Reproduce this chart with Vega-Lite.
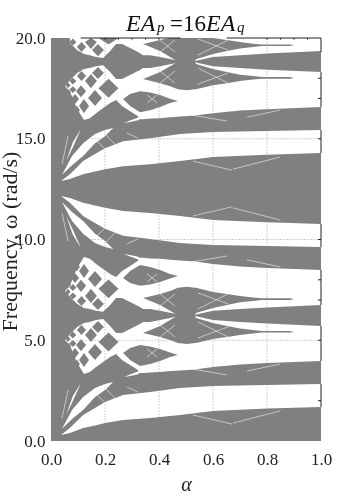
{"$schema":"https://vega.github.io/schema/vega-lite/v6.json","autosize":{"type":"none"},"padding":{"left":51,"top":38,"right":39,"bottom":56},"width":270,"height":403,"background":"white","config":{"view":{"stroke":null}},
"datasets":{
"bg":[{"g":"bg","a":0,"lo":0,"hi":20},{"g":"bg","a":1,"lo":0,"hi":20}],
"white":[
{"g":"A1","a":0.037,"lo":0.3,"hi":0.3},{"g":"A1","a":0.07,"lo":0.4,"hi":0.64},{"g":"A1","a":0.119,"lo":0.64,"hi":1.29},{"g":"A1","a":0.163,"lo":0.77,"hi":1.64},{"g":"A1","a":0.2,"lo":0.89,"hi":1.93},{"g":"A1","a":0.267,"lo":1.04,"hi":2.28},{"g":"A1","a":0.367,"lo":1.14,"hi":2.43},{"g":"A1","a":0.478,"lo":1.29,"hi":2.63},{"g":"A1","a":0.6,"lo":1.49,"hi":2.73},{"g":"A1","a":0.8,"lo":1.61,"hi":2.78},{"g":"A1","a":1,"lo":1.69,"hi":2.83},
{"g":"A2","a":0.037,"lo":12.16,"hi":12.16},{"g":"A2","a":0.07,"lo":12.06,"hi":11.82},{"g":"A2","a":0.119,"lo":11.82,"hi":11.17},{"g":"A2","a":0.163,"lo":11.69,"hi":10.82},{"g":"A2","a":0.2,"lo":11.57,"hi":10.53},{"g":"A2","a":0.267,"lo":11.42,"hi":10.18},{"g":"A2","a":0.367,"lo":11.32,"hi":10.03},{"g":"A2","a":0.478,"lo":11.17,"hi":9.83},{"g":"A2","a":0.6,"lo":10.97,"hi":9.73},{"g":"A2","a":0.8,"lo":10.85,"hi":9.68},{"g":"A2","a":1,"lo":10.77,"hi":9.63},
{"g":"A3","a":0.037,"lo":12.9,"hi":12.9},{"g":"A3","a":0.07,"lo":13.0,"hi":13.24},{"g":"A3","a":0.119,"lo":13.24,"hi":13.89},{"g":"A3","a":0.163,"lo":13.37,"hi":14.24},{"g":"A3","a":0.2,"lo":13.49,"hi":14.53},{"g":"A3","a":0.267,"lo":13.64,"hi":14.88},{"g":"A3","a":0.367,"lo":13.74,"hi":15.03},{"g":"A3","a":0.478,"lo":13.89,"hi":15.23},{"g":"A3","a":0.6,"lo":14.09,"hi":15.33},{"g":"A3","a":0.8,"lo":14.21,"hi":15.38},{"g":"A3","a":1,"lo":14.29,"hi":15.43},
{"g":"B1","a":0.041,"lo":0.61,"hi":0.61},{"g":"B1","a":0.078,"lo":1.09,"hi":1.54},{"g":"B1","a":0.119,"lo":1.54,"hi":2.18},{"g":"B1","a":0.163,"lo":2.18,"hi":2.63},{"g":"B1","a":0.2,"lo":2.53,"hi":2.83},{"g":"B1","a":0.23,"lo":2.93,"hi":2.93},
{"g":"B2","a":0.041,"lo":11.85,"hi":11.85},{"g":"B2","a":0.078,"lo":11.37,"hi":10.92},{"g":"B2","a":0.119,"lo":10.92,"hi":10.28},{"g":"B2","a":0.163,"lo":10.28,"hi":9.83},{"g":"B2","a":0.2,"lo":9.93,"hi":9.63},{"g":"B2","a":0.23,"lo":9.53,"hi":9.53},
{"g":"B3","a":0.041,"lo":13.21,"hi":13.21},{"g":"B3","a":0.078,"lo":13.69,"hi":14.14},{"g":"B3","a":0.119,"lo":14.14,"hi":14.78},{"g":"B3","a":0.163,"lo":14.78,"hi":15.23},{"g":"B3","a":0.2,"lo":15.13,"hi":15.43},{"g":"B3","a":0.23,"lo":15.53,"hi":15.53},
{"g":"C1","a":0.056,"lo":1.29,"hi":1.29},{"g":"C1","a":0.081,"lo":1.98,"hi":2.23},{"g":"C1","a":0.111,"lo":2.88,"hi":2.88},
{"g":"C2","a":0.056,"lo":11.17,"hi":11.17},{"g":"C2","a":0.081,"lo":10.48,"hi":10.23},{"g":"C2","a":0.111,"lo":9.58,"hi":9.58},
{"g":"C3","a":0.056,"lo":13.89,"hi":13.89},{"g":"C3","a":0.081,"lo":14.58,"hi":14.83},{"g":"C3","a":0.111,"lo":15.48,"hi":15.48},
{"g":"M1","a":0.052,"lo":5.01,"hi":5.01},{"g":"M1","a":0.07,"lo":4.75,"hi":5.3},{"g":"M1","a":0.096,"lo":3.9,"hi":5.65},{"g":"M1","a":0.122,"lo":3.33,"hi":5.86},{"g":"M1","a":0.144,"lo":3.42,"hi":5.91},{"g":"M1","a":0.167,"lo":3.67,"hi":6.0},{"g":"M1","a":0.193,"lo":3.92,"hi":6.05},{"g":"M1","a":0.219,"lo":4.17,"hi":5.71},{"g":"M1","a":0.241,"lo":4.32,"hi":5.36},{"g":"M1","a":0.263,"lo":4.02,"hi":5.36},{"g":"M1","a":0.293,"lo":3.77,"hi":5.56},{"g":"M1","a":0.322,"lo":3.52,"hi":5.76},{"g":"M1","a":0.326,"lo":3.37,"hi":5.78},{"g":"M1","a":0.341,"lo":3.37,"hi":5.91},{"g":"M1","a":0.367,"lo":3.4,"hi":5.91},{"g":"M1","a":0.404,"lo":3.42,"hi":6.0},{"g":"M1","a":0.441,"lo":3.47,"hi":6.1},{"g":"M1","a":0.478,"lo":3.5,"hi":6.2},{"g":"M1","a":0.533,"lo":3.55,"hi":6.2},{"g":"M1","a":0.6,"lo":3.67,"hi":6.0},{"g":"M1","a":0.7,"lo":3.8,"hi":5.91},{"g":"M1","a":0.8,"lo":3.87,"hi":5.83},{"g":"M1","a":1,"lo":3.97,"hi":5.71},
{"g":"M2","a":0.052,"lo":7.45,"hi":7.45},{"g":"M2","a":0.07,"lo":7.71,"hi":7.16},{"g":"M2","a":0.096,"lo":8.56,"hi":6.81},{"g":"M2","a":0.122,"lo":9.13,"hi":6.6},{"g":"M2","a":0.144,"lo":9.04,"hi":6.55},{"g":"M2","a":0.167,"lo":8.79,"hi":6.46},{"g":"M2","a":0.193,"lo":8.54,"hi":6.41},{"g":"M2","a":0.219,"lo":8.29,"hi":6.75},{"g":"M2","a":0.241,"lo":8.14,"hi":7.1},{"g":"M2","a":0.263,"lo":8.44,"hi":7.1},{"g":"M2","a":0.293,"lo":8.69,"hi":6.9},{"g":"M2","a":0.322,"lo":8.94,"hi":6.7},{"g":"M2","a":0.326,"lo":9.09,"hi":6.68},{"g":"M2","a":0.341,"lo":9.09,"hi":6.55},{"g":"M2","a":0.367,"lo":9.06,"hi":6.55},{"g":"M2","a":0.404,"lo":9.04,"hi":6.46},{"g":"M2","a":0.441,"lo":8.99,"hi":6.36},{"g":"M2","a":0.478,"lo":8.96,"hi":6.26},{"g":"M2","a":0.533,"lo":8.91,"hi":6.26},{"g":"M2","a":0.6,"lo":8.79,"hi":6.46},{"g":"M2","a":0.7,"lo":8.66,"hi":6.55},{"g":"M2","a":0.8,"lo":8.59,"hi":6.63},{"g":"M2","a":1,"lo":8.49,"hi":6.75},
{"g":"M3","a":0.052,"lo":17.61,"hi":17.61},{"g":"M3","a":0.07,"lo":17.35,"hi":17.9},{"g":"M3","a":0.096,"lo":16.5,"hi":18.25},{"g":"M3","a":0.122,"lo":15.93,"hi":18.46},{"g":"M3","a":0.144,"lo":16.02,"hi":18.51},{"g":"M3","a":0.167,"lo":16.27,"hi":18.6},{"g":"M3","a":0.193,"lo":16.52,"hi":18.65},{"g":"M3","a":0.219,"lo":16.77,"hi":18.31},{"g":"M3","a":0.241,"lo":16.92,"hi":17.96},{"g":"M3","a":0.263,"lo":16.62,"hi":17.96},{"g":"M3","a":0.293,"lo":16.37,"hi":18.16},{"g":"M3","a":0.322,"lo":16.12,"hi":18.36},{"g":"M3","a":0.326,"lo":15.97,"hi":18.38},{"g":"M3","a":0.341,"lo":15.97,"hi":18.51},{"g":"M3","a":0.367,"lo":16.0,"hi":18.51},{"g":"M3","a":0.404,"lo":16.02,"hi":18.6},{"g":"M3","a":0.441,"lo":16.07,"hi":18.7},{"g":"M3","a":0.478,"lo":16.1,"hi":18.8},{"g":"M3","a":0.533,"lo":16.15,"hi":18.8},{"g":"M3","a":0.6,"lo":16.27,"hi":18.6},{"g":"M3","a":0.7,"lo":16.4,"hi":18.51},{"g":"M3","a":0.8,"lo":16.47,"hi":18.43},{"g":"M3","a":1,"lo":16.57,"hi":18.31},
{"g":"M4","a":0.07,"lo":20,"hi":19.76},{"g":"M4","a":0.096,"lo":20,"hi":19.41},{"g":"M4","a":0.122,"lo":20,"hi":19.2},{"g":"M4","a":0.144,"lo":20,"hi":19.15},{"g":"M4","a":0.167,"lo":20,"hi":19.06},{"g":"M4","a":0.193,"lo":20,"hi":19.01},{"g":"M4","a":0.219,"lo":20,"hi":19.35},{"g":"M4","a":0.241,"lo":20,"hi":19.7},{"g":"M4","a":0.263,"lo":20,"hi":19.7},{"g":"M4","a":0.293,"lo":20,"hi":19.5},{"g":"M4","a":0.322,"lo":20,"hi":19.3},{"g":"M4","a":0.326,"lo":20,"hi":19.28},{"g":"M4","a":0.341,"lo":20,"hi":19.15},{"g":"M4","a":0.367,"lo":20,"hi":19.15},{"g":"M4","a":0.404,"lo":20,"hi":19.06},{"g":"M4","a":0.441,"lo":20,"hi":18.96},{"g":"M4","a":0.478,"lo":20,"hi":18.86},{"g":"M4","a":0.533,"lo":20,"hi":18.86},{"g":"M4","a":0.6,"lo":20,"hi":19.06},{"g":"M4","a":0.7,"lo":20,"hi":19.15},{"g":"M4","a":0.8,"lo":20,"hi":19.23},{"g":"M4","a":1,"lo":20,"hi":19.35},
{"g":"E1","a":0.27,"lo":3.18,"hi":3.18},{"g":"E1","a":0.293,"lo":3.23,"hi":3.3},{"g":"E1","a":0.326,"lo":3.33,"hi":3.47},
{"g":"E2","a":0.27,"lo":9.28,"hi":9.28},{"g":"E2","a":0.293,"lo":9.23,"hi":9.16},{"g":"E2","a":0.326,"lo":9.13,"hi":8.99},
{"g":"E3","a":0.27,"lo":15.78,"hi":15.78},{"g":"E3","a":0.293,"lo":15.83,"hi":15.9},{"g":"E3","a":0.326,"lo":15.93,"hi":16.07}
],
"gray":[
{"g":"I1","a":0.267,"lo":4.37,"hi":4.37},{"g":"I1","a":0.293,"lo":4.02,"hi":4.62},{"g":"I1","a":0.33,"lo":3.72,"hi":4.76},{"g":"I1","a":0.367,"lo":3.82,"hi":4.69},{"g":"I1","a":0.404,"lo":3.97,"hi":4.57},{"g":"I1","a":0.441,"lo":4.17,"hi":4.39},{"g":"I1","a":0.47,"lo":4.27,"hi":4.27},
{"g":"I2","a":0.267,"lo":8.09,"hi":8.09},{"g":"I2","a":0.293,"lo":8.44,"hi":7.84},{"g":"I2","a":0.33,"lo":8.74,"hi":7.7},{"g":"I2","a":0.367,"lo":8.64,"hi":7.77},{"g":"I2","a":0.404,"lo":8.49,"hi":7.89},{"g":"I2","a":0.441,"lo":8.29,"hi":8.07},{"g":"I2","a":0.47,"lo":8.19,"hi":8.19},
{"g":"I3","a":0.267,"lo":16.97,"hi":16.97},{"g":"I3","a":0.293,"lo":16.62,"hi":17.22},{"g":"I3","a":0.33,"lo":16.32,"hi":17.36},{"g":"I3","a":0.367,"lo":16.42,"hi":17.29},{"g":"I3","a":0.404,"lo":16.57,"hi":17.17},{"g":"I3","a":0.441,"lo":16.77,"hi":16.99},{"g":"I3","a":0.47,"lo":16.87,"hi":16.87},
{"g":"H1","a":0.341,"lo":5.36,"hi":5.36},{"g":"H1","a":0.404,"lo":5.16,"hi":5.71},{"g":"H1","a":0.441,"lo":5.01,"hi":6.0},{"g":"H1","a":0.47,"lo":4.86,"hi":6.23},{"g":"H1","a":0.504,"lo":4.81,"hi":6.23},{"g":"H1","a":0.533,"lo":4.86,"hi":6.23},{"g":"H1","a":0.537,"lo":4.86,"hi":6.11},{"g":"H1","a":0.6,"lo":5.06,"hi":5.86},{"g":"H1","a":0.652,"lo":5.16,"hi":5.71},{"g":"H1","a":0.7,"lo":5.26,"hi":5.58},{"g":"H1","a":0.748,"lo":5.34,"hi":5.51},{"g":"H1","a":0.781,"lo":5.38,"hi":5.46},{"g":"H1","a":0.885,"lo":5.38,"hi":5.46},{"g":"H1","a":0.9,"lo":5.41,"hi":5.41},
{"g":"H2","a":0.341,"lo":7.1,"hi":7.1},{"g":"H2","a":0.404,"lo":7.3,"hi":6.75},{"g":"H2","a":0.441,"lo":7.45,"hi":6.46},{"g":"H2","a":0.47,"lo":7.6,"hi":6.23},{"g":"H2","a":0.504,"lo":7.65,"hi":6.23},{"g":"H2","a":0.533,"lo":7.6,"hi":6.23},{"g":"H2","a":0.537,"lo":7.6,"hi":6.35},{"g":"H2","a":0.6,"lo":7.4,"hi":6.6},{"g":"H2","a":0.652,"lo":7.3,"hi":6.75},{"g":"H2","a":0.7,"lo":7.2,"hi":6.88},{"g":"H2","a":0.748,"lo":7.12,"hi":6.95},{"g":"H2","a":0.781,"lo":7.08,"hi":7.0},{"g":"H2","a":0.885,"lo":7.08,"hi":7.0},{"g":"H2","a":0.9,"lo":7.05,"hi":7.05},
{"g":"H3","a":0.341,"lo":17.96,"hi":17.96},{"g":"H3","a":0.404,"lo":17.76,"hi":18.31},{"g":"H3","a":0.441,"lo":17.61,"hi":18.6},{"g":"H3","a":0.47,"lo":17.46,"hi":18.83},{"g":"H3","a":0.504,"lo":17.41,"hi":18.83},{"g":"H3","a":0.533,"lo":17.46,"hi":18.83},{"g":"H3","a":0.537,"lo":17.46,"hi":18.71},{"g":"H3","a":0.6,"lo":17.66,"hi":18.46},{"g":"H3","a":0.652,"lo":17.76,"hi":18.31},{"g":"H3","a":0.7,"lo":17.86,"hi":18.18},{"g":"H3","a":0.748,"lo":17.94,"hi":18.11},{"g":"H3","a":0.781,"lo":17.98,"hi":18.06},{"g":"H3","a":0.885,"lo":17.98,"hi":18.06},{"g":"H3","a":0.9,"lo":18.01,"hi":18.01},
{"g":"H4","a":0.341,"lo":19.7,"hi":19.7},{"g":"H4","a":0.404,"lo":19.9,"hi":19.35},{"g":"H4","a":0.441,"lo":20,"hi":19.06},{"g":"H4","a":0.47,"lo":20,"hi":18.83},{"g":"H4","a":0.504,"lo":20,"hi":18.83},{"g":"H4","a":0.533,"lo":20,"hi":18.83},{"g":"H4","a":0.537,"lo":20,"hi":18.95},{"g":"H4","a":0.6,"lo":20,"hi":19.2},{"g":"H4","a":0.652,"lo":19.9,"hi":19.35},{"g":"H4","a":0.7,"lo":19.8,"hi":19.48},{"g":"H4","a":0.748,"lo":19.72,"hi":19.55},{"g":"H4","a":0.781,"lo":19.68,"hi":19.6},{"g":"H4","a":0.885,"lo":19.68,"hi":19.6},{"g":"H4","a":0.9,"lo":19.65,"hi":19.65},
{"g":"D1a","a":0.176,"lo":4.91,"hi":4.91},{"g":"D1a","a":0.213,"lo":4.44,"hi":5.38},{"g":"D1a","a":0.25,"lo":4.91,"hi":4.91},
{"g":"D1b","a":0.176,"lo":7.55,"hi":7.55},{"g":"D1b","a":0.213,"lo":7.08,"hi":8.02},{"g":"D1b","a":0.25,"lo":7.55,"hi":7.55},
{"g":"D1c","a":0.176,"lo":17.51,"hi":17.51},{"g":"D1c","a":0.213,"lo":17.04,"hi":17.98},{"g":"D1c","a":0.25,"lo":17.51,"hi":17.51},
{"g":"D1d","a":0.176,"lo":20,"hi":20},{"g":"D1d","a":0.213,"lo":19.68,"hi":20},{"g":"D1d","a":0.25,"lo":20,"hi":20},
{"g":"D2a","a":0.126,"lo":5.26,"hi":5.26},{"g":"D2a","a":0.148,"lo":4.91,"hi":5.61},{"g":"D2a","a":0.17,"lo":5.26,"hi":5.26},
{"g":"D2b","a":0.126,"lo":7.2,"hi":7.2},{"g":"D2b","a":0.148,"lo":6.85,"hi":7.55},{"g":"D2b","a":0.17,"lo":7.2,"hi":7.2},
{"g":"D2c","a":0.126,"lo":17.86,"hi":17.86},{"g":"D2c","a":0.148,"lo":17.51,"hi":18.21},{"g":"D2c","a":0.17,"lo":17.86,"hi":17.86},
{"g":"D2d","a":0.126,"lo":19.8,"hi":19.8},{"g":"D2d","a":0.148,"lo":19.45,"hi":20},{"g":"D2d","a":0.17,"lo":19.8,"hi":19.8},
{"g":"D3a","a":0.137,"lo":4.42,"hi":4.42},{"g":"D3a","a":0.163,"lo":4.02,"hi":4.82},{"g":"D3a","a":0.189,"lo":4.42,"hi":4.42},
{"g":"D3b","a":0.137,"lo":8.04,"hi":8.04},{"g":"D3b","a":0.163,"lo":7.64,"hi":8.44},{"g":"D3b","a":0.189,"lo":8.04,"hi":8.04},
{"g":"D3c","a":0.137,"lo":17.02,"hi":17.02},{"g":"D3c","a":0.163,"lo":16.62,"hi":17.42},{"g":"D3c","a":0.189,"lo":17.02,"hi":17.02},
{"g":"D4a","a":0.096,"lo":5.51,"hi":5.51},{"g":"D4a","a":0.113,"lo":5.26,"hi":5.76},{"g":"D4a","a":0.13,"lo":5.51,"hi":5.51},
{"g":"D4b","a":0.096,"lo":6.95,"hi":6.95},{"g":"D4b","a":0.113,"lo":6.7,"hi":7.2},{"g":"D4b","a":0.13,"lo":6.95,"hi":6.95},
{"g":"D4c","a":0.096,"lo":18.11,"hi":18.11},{"g":"D4c","a":0.113,"lo":17.86,"hi":18.36},{"g":"D4c","a":0.13,"lo":18.11,"hi":18.11},
{"g":"D4d","a":0.096,"lo":19.55,"hi":19.55},{"g":"D4d","a":0.113,"lo":19.3,"hi":19.8},{"g":"D4d","a":0.13,"lo":19.55,"hi":19.55},
{"g":"D5a","a":0.093,"lo":4.76,"hi":4.76},{"g":"D5a","a":0.111,"lo":4.46,"hi":5.06},{"g":"D5a","a":0.13,"lo":4.76,"hi":4.76},
{"g":"D5b","a":0.093,"lo":7.7,"hi":7.7},{"g":"D5b","a":0.111,"lo":7.4,"hi":8.0},{"g":"D5b","a":0.13,"lo":7.7,"hi":7.7},
{"g":"D5c","a":0.093,"lo":17.36,"hi":17.36},{"g":"D5c","a":0.111,"lo":17.06,"hi":17.66},{"g":"D5c","a":0.13,"lo":17.36,"hi":17.36},
{"g":"D6a","a":0.104,"lo":4.02,"hi":4.02},{"g":"D6a","a":0.122,"lo":3.67,"hi":4.37},{"g":"D6a","a":0.141,"lo":4.02,"hi":4.02},
{"g":"D6b","a":0.104,"lo":8.44,"hi":8.44},{"g":"D6b","a":0.122,"lo":8.09,"hi":8.79},{"g":"D6b","a":0.141,"lo":8.44,"hi":8.44},
{"g":"D6c","a":0.104,"lo":16.62,"hi":16.62},{"g":"D6c","a":0.122,"lo":16.27,"hi":16.97},{"g":"D6c","a":0.141,"lo":16.62,"hi":16.62},
{"g":"D7a","a":0.068,"lo":5.26,"hi":5.26},{"g":"D7a","a":0.081,"lo":5.09,"hi":5.43},{"g":"D7a","a":0.094,"lo":5.26,"hi":5.26},
{"g":"D7b","a":0.068,"lo":7.2,"hi":7.2},{"g":"D7b","a":0.081,"lo":7.03,"hi":7.37},{"g":"D7b","a":0.094,"lo":7.2,"hi":7.2},
{"g":"D7c","a":0.068,"lo":17.86,"hi":17.86},{"g":"D7c","a":0.081,"lo":17.69,"hi":18.03},{"g":"D7c","a":0.094,"lo":17.86,"hi":17.86},
{"g":"D7d","a":0.068,"lo":19.8,"hi":19.8},{"g":"D7d","a":0.081,"lo":19.63,"hi":19.97},{"g":"D7d","a":0.094,"lo":19.8,"hi":19.8},
{"g":"D8a","a":0.068,"lo":4.84,"hi":4.84},{"g":"D8a","a":0.081,"lo":4.67,"hi":5.01},{"g":"D8a","a":0.094,"lo":4.84,"hi":4.84},
{"g":"D8b","a":0.068,"lo":7.62,"hi":7.62},{"g":"D8b","a":0.081,"lo":7.45,"hi":7.79},{"g":"D8b","a":0.094,"lo":7.62,"hi":7.62},
{"g":"D8c","a":0.068,"lo":17.44,"hi":17.44},{"g":"D8c","a":0.081,"lo":17.27,"hi":17.61},{"g":"D8c","a":0.094,"lo":17.44,"hi":17.44},
{"g":"D9a","a":0.074,"lo":4.37,"hi":4.37},{"g":"D9a","a":0.089,"lo":4.12,"hi":4.62},{"g":"D9a","a":0.104,"lo":4.37,"hi":4.37},
{"g":"D9b","a":0.074,"lo":8.09,"hi":8.09},{"g":"D9b","a":0.089,"lo":7.84,"hi":8.34},{"g":"D9b","a":0.104,"lo":8.09,"hi":8.09},
{"g":"D9c","a":0.074,"lo":16.97,"hi":16.97},{"g":"D9c","a":0.089,"lo":16.72,"hi":17.22},{"g":"D9c","a":0.104,"lo":16.97,"hi":16.97},
{"g":"D10a","a":0.085,"lo":3.82,"hi":3.82},{"g":"D10a","a":0.096,"lo":3.6,"hi":4.04},{"g":"D10a","a":0.107,"lo":3.82,"hi":3.82},
{"g":"D10b","a":0.085,"lo":8.64,"hi":8.64},{"g":"D10b","a":0.096,"lo":8.42,"hi":8.86},{"g":"D10b","a":0.107,"lo":8.64,"hi":8.64},
{"g":"D10c","a":0.085,"lo":16.42,"hi":16.42},{"g":"D10c","a":0.096,"lo":16.2,"hi":16.64},{"g":"D10c","a":0.107,"lo":16.42,"hi":16.42},
{"g":"D11a","a":0.054,"lo":5.06,"hi":5.06},{"g":"D11a","a":0.063,"lo":4.91,"hi":5.21},{"g":"D11a","a":0.072,"lo":5.06,"hi":5.06},
{"g":"D11b","a":0.054,"lo":7.4,"hi":7.4},{"g":"D11b","a":0.063,"lo":7.25,"hi":7.55},{"g":"D11b","a":0.072,"lo":7.4,"hi":7.4},
{"g":"D11c","a":0.054,"lo":17.66,"hi":17.66},{"g":"D11c","a":0.063,"lo":17.51,"hi":17.81},{"g":"D11c","a":0.072,"lo":17.66,"hi":17.66},
{"g":"D12a","a":0.056,"lo":4.71,"hi":4.71},{"g":"D12a","a":0.065,"lo":4.56,"hi":4.86},{"g":"D12a","a":0.074,"lo":4.71,"hi":4.71},
{"g":"D12b","a":0.056,"lo":7.75,"hi":7.75},{"g":"D12b","a":0.065,"lo":7.6,"hi":7.9},{"g":"D12b","a":0.074,"lo":7.75,"hi":7.75},
{"g":"D12c","a":0.056,"lo":17.31,"hi":17.31},{"g":"D12c","a":0.065,"lo":17.16,"hi":17.46},{"g":"D12c","a":0.074,"lo":17.31,"hi":17.31},
{"g":"D13a","a":0.061,"lo":4.37,"hi":4.37},{"g":"D13a","a":0.07,"lo":4.22,"hi":4.52},{"g":"D13a","a":0.079,"lo":4.37,"hi":4.37},
{"g":"D13b","a":0.061,"lo":8.09,"hi":8.09},{"g":"D13b","a":0.07,"lo":7.94,"hi":8.24},{"g":"D13b","a":0.079,"lo":8.09,"hi":8.09},
{"g":"D13c","a":0.061,"lo":16.97,"hi":16.97},{"g":"D13c","a":0.07,"lo":16.82,"hi":17.12},{"g":"D13c","a":0.079,"lo":16.97,"hi":16.97},
{"g":"D14a","a":0.067,"lo":5.61,"hi":5.61},{"g":"D14a","a":0.078,"lo":5.46,"hi":5.76},{"g":"D14a","a":0.089,"lo":5.61,"hi":5.61},
{"g":"D14b","a":0.067,"lo":6.85,"hi":6.85},{"g":"D14b","a":0.078,"lo":6.7,"hi":7.0},{"g":"D14b","a":0.089,"lo":6.85,"hi":6.85},
{"g":"D14c","a":0.067,"lo":18.21,"hi":18.21},{"g":"D14c","a":0.078,"lo":18.06,"hi":18.36},{"g":"D14c","a":0.089,"lo":18.21,"hi":18.21},
{"g":"D14d","a":0.067,"lo":19.45,"hi":19.45},{"g":"D14d","a":0.078,"lo":19.3,"hi":19.6},{"g":"D14d","a":0.089,"lo":19.45,"hi":19.45},
{"g":"D15a","a":0.152,"lo":5.66,"hi":5.66},{"g":"D15a","a":0.174,"lo":5.36,"hi":5.96},{"g":"D15a","a":0.196,"lo":5.66,"hi":5.66},
{"g":"D15b","a":0.152,"lo":6.8,"hi":6.8},{"g":"D15b","a":0.174,"lo":6.5,"hi":7.1},{"g":"D15b","a":0.196,"lo":6.8,"hi":6.8},
{"g":"D15c","a":0.152,"lo":18.26,"hi":18.26},{"g":"D15c","a":0.174,"lo":17.96,"hi":18.56},{"g":"D15c","a":0.196,"lo":18.26,"hi":18.26},
{"g":"D15d","a":0.152,"lo":19.4,"hi":19.4},{"g":"D15d","a":0.174,"lo":19.1,"hi":19.7},{"g":"D15d","a":0.196,"lo":19.4,"hi":19.4}
],
"hair":[
{"g":"h1a","a":0.163,"w":2.38},{"g":"h1a","a":0.2,"w":1.89},{"g":"h1b","a":0.163,"w":10.08},{"g":"h1b","a":0.2,"w":10.57},{"g":"h1c","a":0.163,"w":14.98},{"g":"h1c","a":0.2,"w":14.49},
{"g":"h2a","a":0.2,"w":2.63},{"g":"h2a","a":0.244,"w":2.03},{"g":"h2b","a":0.2,"w":9.83},{"g":"h2b","a":0.244,"w":10.43},{"g":"h2c","a":0.2,"w":15.23},{"g":"h2c","a":0.244,"w":14.63},
{"g":"h3a","a":0.281,"w":2.68},{"g":"h3a","a":0.322,"w":2.43},{"g":"h3b","a":0.281,"w":9.78},{"g":"h3b","a":0.322,"w":10.03},{"g":"h3c","a":0.281,"w":15.28},{"g":"h3c","a":0.322,"w":15.03},
{"g":"h4a","a":0.526,"w":1.29},{"g":"h4a","a":0.67,"w":0.84},{"g":"h4b","a":0.526,"w":11.17},{"g":"h4b","a":0.67,"w":11.62},{"g":"h4c","a":0.526,"w":13.89},{"g":"h4c","a":0.67,"w":13.44},
{"g":"h5a","a":0.674,"w":0.89},{"g":"h5a","a":0.848,"w":1.49},{"g":"h5b","a":0.674,"w":11.57},{"g":"h5b","a":0.848,"w":10.97},{"g":"h5c","a":0.674,"w":13.49},{"g":"h5c","a":0.848,"w":14.09},
{"g":"h6a","a":0.522,"w":3.57},{"g":"h6a","a":0.652,"w":3.28},{"g":"h6b","a":0.522,"w":8.89},{"g":"h6b","a":0.652,"w":9.18},{"g":"h6c","a":0.522,"w":16.17},{"g":"h6c","a":0.652,"w":15.88},
{"g":"h7a","a":0.726,"w":3.47},{"g":"h7a","a":0.848,"w":3.82},{"g":"h7b","a":0.726,"w":8.99},{"g":"h7b","a":0.848,"w":8.64},{"g":"h7c","a":0.726,"w":16.07},{"g":"h7c","a":0.848,"w":16.42},
{"g":"h8a","a":0.404,"w":5.76},{"g":"h8a","a":0.459,"w":5.16},{"g":"h8b","a":0.404,"w":6.7},{"g":"h8b","a":0.459,"w":7.3},{"g":"h8c","a":0.404,"w":18.36},{"g":"h8c","a":0.459,"w":17.76},{"g":"h8d","a":0.404,"w":19.3},{"g":"h8d","a":0.459,"w":19.9},
{"g":"h9a","a":0.404,"w":5.16},{"g":"h9a","a":0.459,"w":5.76},{"g":"h9b","a":0.404,"w":7.3},{"g":"h9b","a":0.459,"w":6.7},{"g":"h9c","a":0.404,"w":17.76},{"g":"h9c","a":0.459,"w":18.36},{"g":"h9d","a":0.404,"w":19.9},{"g":"h9d","a":0.459,"w":19.3},
{"g":"h10a","a":0.544,"w":5.91},{"g":"h10a","a":0.656,"w":5.16},{"g":"h10b","a":0.544,"w":6.55},{"g":"h10b","a":0.656,"w":7.3},{"g":"h10c","a":0.544,"w":18.51},{"g":"h10c","a":0.656,"w":17.76},{"g":"h10d","a":0.544,"w":19.15},{"g":"h10d","a":0.656,"w":19.9},
{"g":"h11a","a":0.544,"w":5.11},{"g":"h11a","a":0.656,"w":5.66},{"g":"h11b","a":0.544,"w":7.35},{"g":"h11b","a":0.656,"w":6.8},{"g":"h11c","a":0.544,"w":17.71},{"g":"h11c","a":0.656,"w":18.26},{"g":"h11d","a":0.544,"w":19.95},{"g":"h11d","a":0.656,"w":19.4},
{"g":"h12a","a":0.356,"w":4.57},{"g":"h12a","a":0.393,"w":4.17},{"g":"h12b","a":0.356,"w":7.89},{"g":"h12b","a":0.393,"w":8.29},{"g":"h12c","a":0.356,"w":17.17},{"g":"h12c","a":0.393,"w":16.77},
{"g":"h13a","a":0.356,"w":4.17},{"g":"h13a","a":0.393,"w":4.57},{"g":"h13b","a":0.356,"w":8.29},{"g":"h13b","a":0.393,"w":7.89},{"g":"h13c","a":0.356,"w":16.77},{"g":"h13c","a":0.393,"w":17.17},
{"g":"h14a","a":0.041,"w":1.14},{"g":"h14a","a":0.063,"w":2.53},{"g":"h14b","a":0.041,"w":11.32},{"g":"h14b","a":0.063,"w":9.93},{"g":"h14c","a":0.041,"w":13.74},{"g":"h14c","a":0.063,"w":15.13}
],
"frame":[
{"a":0.11,"a2":0.48,"lo":20,"hi":20},{"a":0.65,"a2":1,"lo":20,"hi":20},
{"a":1,"a2":1,"lo":19.3,"hi":20},{"a":1,"a2":1,"lo":16.57,"hi":18.31},{"a":1,"a2":1,"lo":14.29,"hi":15.43},{"a":1,"a2":1,"lo":9.63,"hi":10.77},{"a":1,"a2":1,"lo":6.75,"hi":8.49},{"a":1,"a2":1,"lo":3.97,"hi":5.71},{"a":1,"a2":1,"lo":1.69,"hi":2.83},
{"a":0.989,"a2":1,"lo":18,"hi":18},{"a":0.989,"a2":1,"lo":17,"hi":17},{"a":0.989,"a2":1,"lo":15,"hi":15},{"a":0.989,"a2":1,"lo":10,"hi":10},{"a":0.989,"a2":1,"lo":8,"hi":8},{"a":0.989,"a2":1,"lo":7,"hi":7},{"a":0.989,"a2":1,"lo":5,"hi":5},{"a":0.989,"a2":1,"lo":2,"hi":2},
{"a":0.8,"a2":0.8,"lo":19.92,"hi":20},{"a":0.85,"a2":0.85,"lo":19.92,"hi":20},{"a":0.9,"a2":0.9,"lo":19.92,"hi":20},{"a":0.95,"a2":0.95,"lo":19.92,"hi":20},{"a":0.2,"a2":0.2,"lo":19.92,"hi":20},{"a":0.25,"a2":0.25,"lo":19.92,"hi":20},{"a":0.3,"a2":0.3,"lo":19.92,"hi":20},{"a":0.35,"a2":0.35,"lo":19.92,"hi":20},{"a":0.4,"a2":0.4,"lo":19.92,"hi":20}
],
"titleBig":[{"a":0.278,"w":20.35,"t":"EA"},{"a":0.574,"w":20.35,"t":"EA"}],
"titleSub":[{"a":0.393,"w":20.28,"t":"p"},{"a":0.689,"w":20.28,"t":"q"}],
"titleMid":[{"a":0.441,"w":20.35,"t":"=16"}]
},
"layer":[
{"data":{"name":"bg"},"mark":{"type":"area","color":"#808080","clip":true},"encoding":{"x":{"field":"a","type":"quantitative","scale":{"domain":[0,1],"nice":false},"axis":{"title":"α","titleFont":"Liberation Serif","titleFontStyle":"italic","titleFontWeight":"normal","titleFontSize":20,"titleColor":"#222","titleY":33,"titleX":135,"values":[0,0.2,0.4,0.6,0.8,1],"format":".1f","grid":false,"domain":false,"ticks":false,"labelFont":"Liberation Serif","labelFontSize":17,"labelColor":"#222","labelPadding":10,"labelFlush":false}},"y":{"field":"lo","type":"quantitative","scale":{"domain":[0,20],"nice":false},"axis":{"title":"Frequency, ω (rad/s)","titleFont":"Liberation Serif","titleFontWeight":"normal","titleFontSize":22,"titleColor":"#222","titleX":-30,"titleY":203,"values":[0,5,10,15,20],"format":".1f","grid":false,"domain":false,"ticks":false,"labelFont":"Liberation Serif","labelFontSize":17,"labelColor":"#222","labelPadding":6}},"y2":{"field":"hi"},"detail":{"field":"g"}}},
{"data":{"name":"white"},"mark":{"type":"area","color":"#ffffff","clip":true},"encoding":{"x":{"field":"a","type":"quantitative"},"y":{"field":"lo","type":"quantitative"},"y2":{"field":"hi"},"detail":{"field":"g"}}},
{"data":{"name":"gray"},"mark":{"type":"area","color":"#808080","clip":true},"encoding":{"x":{"field":"a","type":"quantitative"},"y":{"field":"lo","type":"quantitative"},"y2":{"field":"hi"},"detail":{"field":"g"}}},
{"data":{"name":"hair"},"mark":{"type":"line","color":"#ffffff","strokeWidth":0.9,"opacity":0.6,"clip":true},"encoding":{"x":{"field":"a","type":"quantitative"},"y":{"field":"w","type":"quantitative"},"detail":{"field":"g"}}},
{"data":{"values":[{"a":0.2},{"a":0.4},{"a":0.6},{"a":0.8}]},"mark":{"type":"rule","color":"#cfcfcf","strokeWidth":1,"strokeDash":[2,1],"blend":"darken"},"encoding":{"x":{"field":"a","type":"quantitative"}}},
{"data":{"values":[{"w":5},{"w":10},{"w":15}]},"mark":{"type":"rule","color":"#cfcfcf","strokeWidth":1,"strokeDash":[2,1],"blend":"darken"},"encoding":{"y":{"field":"w","type":"quantitative"}}},
{"data":{"name":"frame"},"mark":{"type":"rule","color":"#222222","strokeWidth":1},"encoding":{"x":{"field":"a","type":"quantitative"},"x2":{"field":"a2"},"y":{"field":"lo","type":"quantitative"},"y2":{"field":"hi"}}},
{"data":{"name":"titleBig"},"mark":{"type":"text","font":"Liberation Serif","fontStyle":"italic","fontSize":24,"align":"left","baseline":"alphabetic","color":"#111111"},"encoding":{"x":{"field":"a","type":"quantitative"},"y":{"field":"w","type":"quantitative"},"text":{"field":"t"}}},
{"data":{"name":"titleSub"},"mark":{"type":"text","font":"Liberation Serif","fontStyle":"italic","fontSize":15,"align":"left","baseline":"alphabetic","color":"#111111"},"encoding":{"x":{"field":"a","type":"quantitative"},"y":{"field":"w","type":"quantitative"},"text":{"field":"t"}}},
{"data":{"name":"titleMid"},"mark":{"type":"text","font":"Liberation Serif","fontSize":23,"align":"left","baseline":"alphabetic","color":"#111111"},"encoding":{"x":{"field":"a","type":"quantitative"},"y":{"field":"w","type":"quantitative"},"text":{"field":"t"}}}
]}
